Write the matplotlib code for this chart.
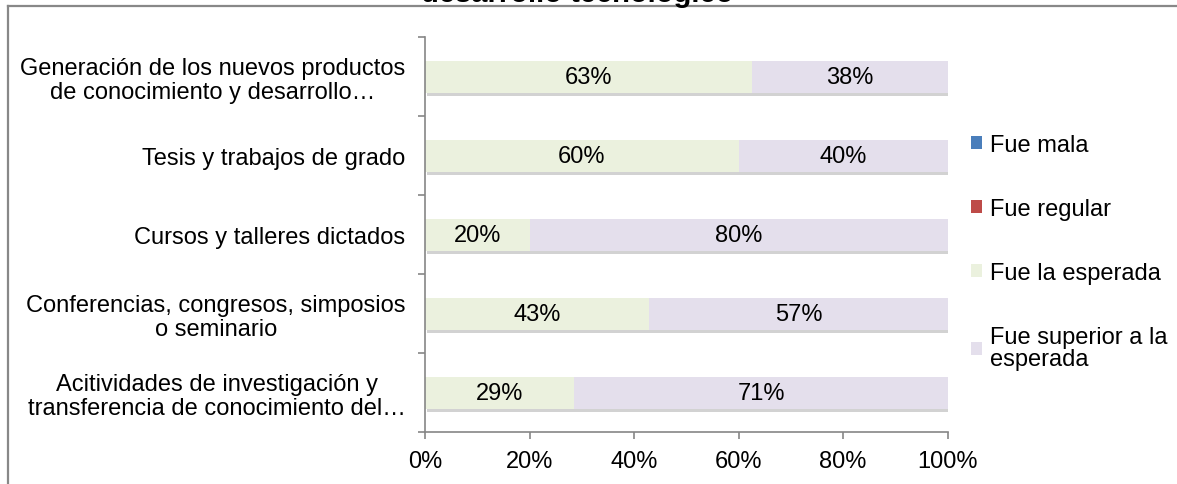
import numpy as np
import matplotlib
matplotlib.use("Agg")
import matplotlib.pyplot as plt
import matplotlib.patheffects as pe
from matplotlib.lines import Line2D
from matplotlib.patches import Patch

plt.rcParams['font.family'] = ['Liberation Sans', 'DejaVu Sans']

# categorias (de arriba hacia abajo)
categorias = [
    "Generación de los nuevos productos\nde conocimiento y desarrollo…",
    "Tesis y trabajos de grado",
    "Cursos y talleres dictados",
    "Conferencias, congresos, simposios\no seminario",
    "Acitividades de investigación y\ntransferencia de conocimiento del…",
]
fue_mala = [0.0, 0.0, 0.0, 0.0, 0.0]
fue_regular = [0.0, 0.0, 0.0, 0.0, 0.0]
fue_esperada = [0.625, 0.60, 0.20, 0.4286, 0.2857]
fue_superior = [0.375, 0.40, 0.80, 0.5714, 0.7143]

series = [
    ("Fue mala", fue_mala, "#4a7ebb"),
    ("Fue regular", fue_regular, "#be4b48"),
    ("Fue la esperada", fue_esperada, "#ebf1de"),
    ("Fue superior a la\nesperada", fue_superior, "#e4dfec"),
]
x_ticks = [0, 0.2, 0.4, 0.6, 0.8, 1.0]
x_ticklabels = ["0%", "20%", "40%", "60%", "80%", "100%"]

FS = 17
fig = plt.figure(figsize=(11.77, 4.85), dpi=100)
ax = fig.add_axes([425 / 1177, 1 - 433.3 / 485, (947.7 - 425) / 1177, (433.3 - 38.3) / 485])

y = np.arange(len(categorias))
left = np.zeros(len(categorias))
shadow = [pe.SimplePatchShadow(offset=(1.5, -2.5), shadow_rgbFace="#808080", alpha=0.35), pe.Normal()]
handles = []
for name, vals, color in series:
    vals = np.array(vals)
    bars = ax.barh(y, vals, left=left, height=0.4, color=color, linewidth=0)
    handles.append(Patch(facecolor=color, edgecolor="none", label=name))
    for b, v, l in zip(bars, vals, left):
        if v > 0:
            b.set_path_effects(shadow)
            ax.text(l + v / 2, b.get_y() + b.get_height() / 2, f"{int(v * 100 + 0.5)}%",
                    ha="center", va="center", fontsize=FS, color="black")
    left = left + vals

ax.set_xlim(0, 1)
ax.set_ylim(len(categorias) - 0.5, -0.5)
ax.set_yticks(y)
ax.set_yticklabels(categorias, fontsize=FS, multialignment="center", linespacing=1.08)
ax.set_yticks(np.arange(-0.5, len(categorias)), minor=True)
ax.tick_params(axis="y", which="major", length=0, pad=14)
ax.tick_params(axis="y", which="minor", length=5, width=1.2, color="#868686")
ax.set_xticks(x_ticks)
ax.set_xticklabels(x_ticklabels, fontsize=FS)
ax.tick_params(axis="x", length=5, width=1.2, color="#868686", pad=8)

for s in ["top", "right"]:
    ax.spines[s].set_visible(False)
for s in ["left", "bottom"]:
    ax.spines[s].set_color("#868686")
    ax.spines[s].set_linewidth(1.2)

leg = ax.legend(handles=handles, loc="upper left", bbox_to_anchor=(971 / 1177, 1 - 135 / 485),
                bbox_transform=fig.transFigure, frameon=False, fontsize=FS, handlelength=0.45,
                handleheight=0.45, handletextpad=0.35, labelspacing=1.78, borderaxespad=0, borderpad=0)
for t in leg.get_texts():
    t.set_linespacing(1.0)

# marco del grafico y titulo recortado
fig.add_artist(Line2D([8 / 1177, 8 / 1177], [0, 1 - 7.3 / 485], transform=fig.transFigure,
                      color="#888888", lw=1.6))
fig.add_artist(Line2D([8 / 1177, 1], [1 - 7.3 / 485, 1 - 7.3 / 485], transform=fig.transFigure,
                      color="#888888", lw=1.6))
fig.text(577 / 1177, 1 - 2.5 / 485, "desarrollo tecnológico", ha="center", va="baseline",
         fontsize=21, fontweight="bold")

fig.savefig("out.png", dpi=100)
